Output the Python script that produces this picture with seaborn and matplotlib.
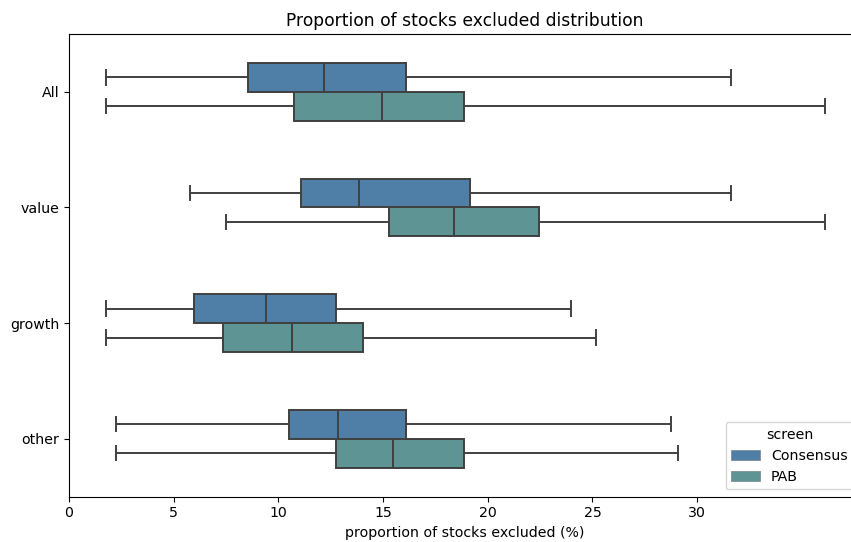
import matplotlib
matplotlib.use("Agg")
import matplotlib.pyplot as plt
import pandas as pd
import seaborn as sns

# Five-number summaries (min, Q1, median, Q3, max) of the share of stocks excluded, in %
categories = ["All", "value", "growth", "other"]
screens = ["Consensus", "PAB"]

consensus_min = [1.77, 5.78, 1.77, 2.24]
consensus_q1 = [8.56, 11.06, 5.99, 10.52]
consensus_median = [12.16, 13.85, 9.39, 12.83]
consensus_q3 = [16.09, 19.13, 12.77, 16.09]
consensus_max = [31.6, 31.6, 23.96, 28.77]

pab_min = [1.77, 7.48, 1.77, 2.24]
pab_q1 = [10.74, 15.28, 7.34, 12.77]
pab_median = [14.93, 18.4, 10.67, 15.49]
pab_q3 = [18.88, 22.46, 14.06, 18.88]
pab_max = [36.09, 36.09, 25.18, 29.1]

summaries = {
    "Consensus": [consensus_min, consensus_q1, consensus_median, consensus_q3, consensus_max],
    "PAB": [pab_min, pab_q1, pab_median, pab_q3, pab_max],
}

rows = []
for screen in screens:
    stats = summaries[screen]
    for i, cat in enumerate(categories):
        for s in stats:
            rows.append({"universe": cat, "screen": screen, "excluded": s[i]})
df = pd.DataFrame(rows)

plt.rcParams["font.family"] = ["DejaVu Sans"]
plt.rcParams["font.size"] = 10.2

dpi = 100
fig = plt.figure(figsize=(851 / dpi, 542 / dpi), dpi=dpi)
ax = fig.add_axes([0.0811, 0.0839, 0.930, 0.8534])

sns.boxplot(
    data=df, x="excluded", y="universe", hue="screen",
    order=categories, hue_order=screens,
    palette={"Consensus": "#4f7ea6", "PAB": "#5f9494"},
    saturation=1, width=0.5, whis=(0, 100), showfliers=False,
    linecolor="#404040", linewidth=1.4, ax=ax,
)

ax.set_xlim(0, 37.8)
ax.set_xticks([0, 5, 10, 15, 20, 25, 30])
ax.set_xlabel("proportion of stocks excluded (%)")
ax.set_ylabel("")
ax.set_title("Proportion of stocks excluded distribution", fontsize=12.3)
leg = ax.legend(title="screen", loc="lower right")
for handle in leg.legend_handles:
    handle.set_edgecolor("#7f8f99")
    handle.set_linewidth(0.6)

fig.savefig("out.png", dpi=dpi)
